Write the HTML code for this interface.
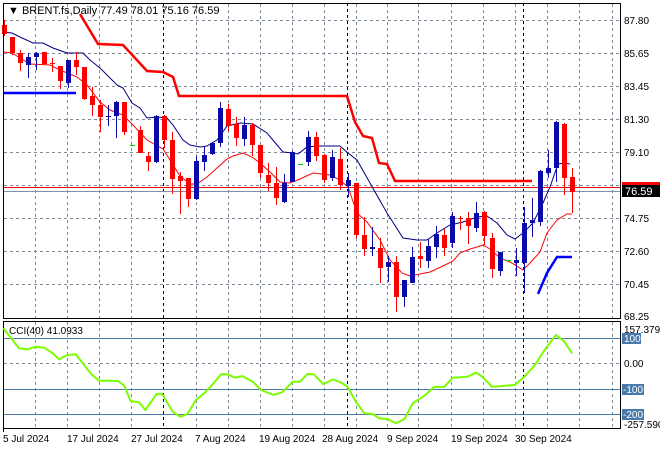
<!DOCTYPE html>
<html><head><meta charset="utf-8"><style>
body{margin:0;background:#fff;width:660px;height:450px;overflow:hidden}
svg{display:block;font-family:"Liberation Sans",sans-serif}
</style></head><body>
<svg id="s" width="660" height="450" xmlns="http://www.w3.org/2000/svg">
<rect width="660" height="450" fill="#fff"/>
<g id="grid" stroke="#7f8a99" stroke-dasharray="3,3" stroke-width="1"></g>
<g id="vl" stroke="#000" stroke-dasharray="3,3" stroke-width="1">
<line x1="163.5" y1="3" x2="163.5" y2="428"/>
<line x1="347.5" y1="3" x2="347.5" y2="428"/>
<line x1="523.5" y1="3" x2="523.5" y2="428"/>
</g>
<line x1="3" y1="187.5" x2="621" y2="187.5" stroke="#ff0000" stroke-width="1"/>
<line x1="3" y1="191.5" x2="621" y2="191.5" stroke="#8090a0" stroke-width="1"/>
<polyline fill="none" stroke="#ff0000" stroke-width="2.5" points="80,14 83,19 98,44 123,45 147,71 163,72 173,77 179,96 347,96 355,122 363,136 372,138 379,163 387,164 395,181 532,181"/>
<polyline fill="none" stroke="#0000ff" stroke-width="2.5" points="3,93 76,93"/>
<polyline fill="none" stroke="#0000ff" stroke-width="2.5" points="538,294 547,273 557,257 572,257"/>
<polyline fill="none" stroke="#000080" stroke-width="1" points="3,32 12,33 20,37 33,43 43,43 53,48 67,53 83,53 90,60 100,68 117,85 123,88 132,103 140,108 147,118 157,117 167,118 173,125 183,140 190,145 200,147 207,146 217,140 227,126 240,123 253,124 267,133 283,152 293,153 298,154 307,147 317,146 330,146 340,146 348,153 357,160 370,183 387,213 403,238 417,240 427,240 437,233 450,225 463,222 477,217 487,216 497,223 507,235 515,239 523,233 533,223 543,203 550,187 558,164 565,163 570,164"/>
<polyline fill="none" stroke="#ff0000" stroke-width="1" points="3,52 12,53 20,58 30,64 50,65 60,70 77,77 87,85 100,102 110,110 123,115 133,125 147,140 163,149 170,160 180,176 190,184 197,184 207,177 217,168 227,159 233,156 243,153 252,157 260,163 270,172 280,182 290,183 300,179 313,173 330,175 340,180 348,187 357,213 367,222 380,240 390,260 402,273 410,276 420,274 430,272 443,266 453,261 460,253 470,249 477,247 483,245 490,249 500,258 510,262 523,270 530,263 540,252 547,233 557,220 567,214 572,214"/>
<g id="c"></g>
<rect x="3.5" y="3.5" width="617" height="315" fill="none" stroke="#000"/>
<rect x="3.5" y="321.5" width="617" height="107" fill="none" stroke="#000"/>
<g stroke="#4a7aaa" stroke-width="1">
<line x1="4" y1="338.5" x2="620" y2="338.5"/>
<line x1="4" y1="389.5" x2="620" y2="389.5"/>
<line x1="4" y1="414.5" x2="620" y2="414.5"/>
</g>
<line x1="4" y1="363.5" x2="620" y2="363.5" stroke="#7f8a99" stroke-dasharray="3,3"/>
<polyline fill="none" stroke="#7cfc00" stroke-width="2" points="3.4,328.3 19,348.3 27.4,349.3 35.8,346.7 44.2,347.7 52.7,353.3 59,359.3 67.4,355 75.8,354.3 84.2,365 90.6,373.3 99,380.7 109.5,380.7 118,381 124.3,385.7 130.6,401 139,402.3 145.3,410 156.7,394 162.2,394 172.7,411.7 180.3,416.7 187.4,414 195.9,400 204.3,393.3 210.6,386.7 221.1,374.3 227.5,374.3 235,377.7 242.2,376 252.7,381.7 261.2,390 273.8,395 282.2,392.3 292.8,381.7 299.9,381.7 307.5,374 313.8,374.3 323.5,384.3 332.8,379.3 341.2,382.7 347.5,386.7 355.9,401.7 364.4,413.3 372.8,414 379.1,418.3 387.5,419 396,423.3 404.4,419 412.8,403.3 425.4,395 433.9,387 444.4,386.7 452.8,377.7 467.6,376.7 476,372.7 482.3,376.7 492,386.7 499.2,386.3 505.5,385.7 514.7,385 524.4,376.7 535,365 543.4,351.7 556,335 564.5,341.7 572,353.3"/>
<g font-size="10" fill="#000">
<text x="8" y="14" font-size="11">▼ BRENT.fs,Daily  77.49 78.01 75.16 76.59</text>
<text x="9" y="334" font-size="10">CCI(40) 41.0933</text>
<text x="624" y="24">87.80</text><text x="624" y="57">85.65</text><text x="624" y="90">83.45</text>
<text x="624" y="123">81.30</text><text x="624" y="156">79.10</text><text x="624" y="222">74.75</text>
<text x="624" y="255">72.60</text><text x="624" y="288">70.45</text><text x="624" y="320">68.25</text>
</g>
<rect x="622" y="182" width="38" height="5" fill="#ff0000"/>
<rect x="622" y="185" width="38" height="12" fill="#000"/>
<text x="625" y="195" font-size="11" fill="#fff">76.59</text>
<g font-size="10">
<text x="624" y="333" fill="#000">157.3796</text>
<rect x="622" y="333" width="19" height="11" fill="#4a7aaa"/><text x="624" y="342" fill="#fff">100</text>
<text x="624" y="367" fill="#000">0.00</text>
<rect x="622" y="384" width="22" height="11" fill="#4a7aaa"/><text x="623" y="393" fill="#fff">-100</text>
<rect x="622" y="409" width="22" height="11" fill="#4a7aaa"/><text x="623" y="418" fill="#fff">-200</text>
<text x="624" y="428" fill="#000">-257.590</text>
</g>
<g font-size="10" fill="#000">
<text x="3" y="442">5 Jul 2024</text><text x="67" y="442">17 Jul 2024</text><text x="131" y="442">27 Jul 2024</text>
<text x="195" y="442">7 Aug 2024</text><text x="259" y="442">19 Aug 2024</text><text x="322" y="442">28 Aug 2024</text>
<text x="387" y="442">9 Sep 2024</text><text x="451" y="442">19 Sep 2024</text><text x="515" y="442">30 Sep 2024</text>
</g>
<g stroke="#000"><line x1="3.5" y1="429" x2="3.5" y2="432"/></g>
<script>
var g=document.getElementById('grid'),ns="http://www.w3.org/2000/svg";
function L(p,x1,y1,x2,y2){var l=document.createElementNS(ns,'line');l.setAttribute('x1',x1);l.setAttribute('y1',y1);l.setAttribute('x2',x2);l.setAttribute('y2',y2);p.appendChild(l);return l;}
[20,53,86,119,152,185,218,251,284].forEach(function(y){L(g,4,y+.5,620,y+.5);});
[35,67,99,131,196,228,260,292,324,356,387,418,451,483,515,547,579,612].forEach(function(x){L(g,x+.5,4,x+.5,318);L(g,x+.5,322,x+.5,428);});
var C=[["r",25,34,20,36],["r",37,53,37,55],["r",53,63,50,71],["b",57,65,53,78],["b",53,57,52,70],["r",52,64,52,65],["r",63,64,58,72],["r",66,81,66,89],["b",60,83,60,88],["r",60,67,52,75],["r",67,99,67,100],["r",96,105,87,116],["r",105,117,100,132],["b",116,117,105,126],["b",102,116,101,138],["r",102,132,102,135],["g",145,145,145,145],["r",130,153,126,153],["r",156,162,152,171],["b",116,162,115,163],["r",116,140,115,148],["r",140,179,132,194],["r",176,181,172,214],["r",178,199,178,207],["b",161,199,156,200],["b",155,162,147,171],["b",143,154,142,155],["b",108,143,102,147],["r",109,126,104,131],["r",124,138,117,146],["b",125,139,117,146],["r",125,145,123,156],["r",145,173,145,178],["r",175,183,163,191],["r",183,198,167,205],["b",183,202,174,203],["b",152,182,151,182],["g",164,164,164,164],["b",137,162,131,166],["r",137,156,132,161],["r",155,180,154,183],["b",157,178,150,181],["r",159,185,148,190],["b",180,186,173,197],["r",183,235,183,238],["r",235,249,217,256],["b",247,249,227,256],["r",248,268,238,283],["b",262,267,256,282],["r",262,297,256,312],["b",280,297,280,307],["b",257,283,247,283],["r",256,259,242,268],["b",246,261,239,268],["b",234,247,226,258],["r",235,248,229,256],["b",216,243,212,248],["r",218,219,216,230],["r",218,226,212,244],["b",213,228,202,232],["r",212,236,211,245],["r",238,269,233,278],["b",252,271,252,276],["g",260,260,260,260],["b",260,263,248,276],["b",223,263,207,293],["b",220,223,198,237],["b",171,222,170,226],["b",168,173,150,178],["b",122,168,121,182],["r",124,178,123,195],["r",177,192,168,213]];
var cg=document.getElementById('c');
C.forEach(function(c,i){var x=4+8*i;var col=c[0]=="r"?"#ff0000":(c[0]=="b"?"#0a0aa8":"#00cc00");
if(c[0]=="g"){var l=L(cg,x-2,c[1]+.5,x+3,c[1]+.5);l.setAttribute('stroke',col);return;}
var w=L(cg,x+.5,c[3],x+.5,c[4]);w.setAttribute('stroke',col);
var r=document.createElementNS(ns,'rect');r.setAttribute('x',x-2);r.setAttribute('y',c[1]);r.setAttribute('width',5);r.setAttribute('height',Math.max(1,c[2]-c[1]));r.setAttribute('fill',col);cg.appendChild(r);});
</script>
</svg>
</body></html>
